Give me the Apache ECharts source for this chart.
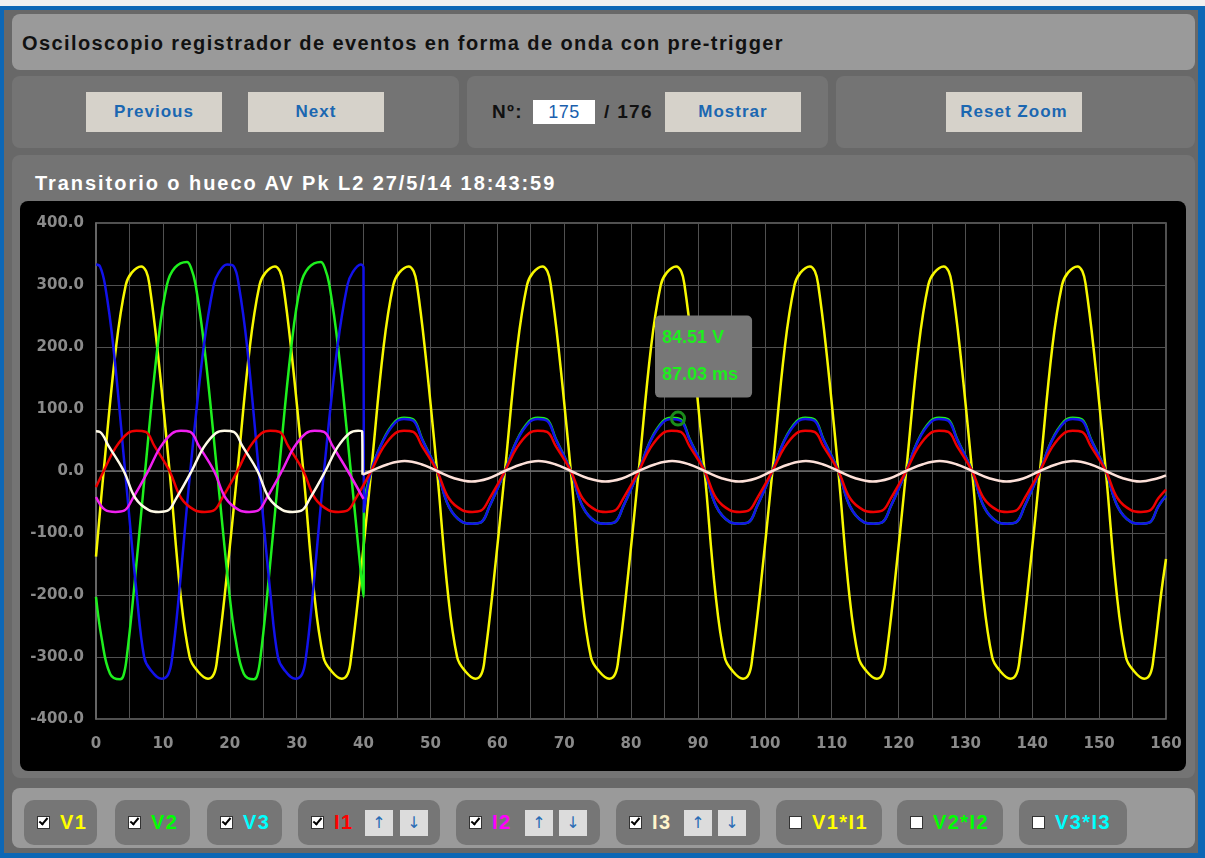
<!DOCTYPE html>
<html>
<head>
<meta charset="utf-8">
<title>Osciloscopio</title>
<script src="https://cdn.jsdelivr.net/npm/echarts@6/dist/echarts.min.js"></script>
<style>
  body { margin: 0; width: 1205px; height: 858px; overflow: hidden; position: relative;
         background: #f0f0f0; font-family: "Liberation Sans", Arial, sans-serif; }
  .abs { position: absolute; }
  .frame { left: 0; top: 6px; width: 1205px; height: 852px; box-sizing: border-box;
           border: 4px solid #0d67b5; border-right-width: 7px; border-bottom-width: 5px; background: #686868; }
  .bar { border-radius: 8px; background: #9a9a9a; }
  .panel { border-radius: 8px; background: #747474; }
  .ttl { left: 22px; top: 30px; font-size: 20px; font-weight: bold; color: #111; letter-spacing: 1.4px; line-height: 26px; }
  .btn { width: 136px; height: 40px; line-height: 40px; text-align: center; background: #d6d2ca;
         color: #1b67b1; font-size: 17px; font-weight: bold; letter-spacing: 1px; }
  .txt { font-size: 19px; font-weight: bold; color: #111; letter-spacing: 1.3px; line-height: 24px; }
  .inp { width: 62px; height: 24px; line-height: 24px; background: #fff; color: #1b5fae; font-size: 18px; text-align: center; letter-spacing: 0.5px; }
  .ctitle { left: 35px; top: 170px; font-size: 20px; font-weight: bold; color: #fff; letter-spacing: 1.95px; line-height: 26px; }
  #chart { left: 20px; top: 201px; width: 1166px; height: 570px; background: #000; border-radius: 8px; }
  .item { top: 800px; height: 45px; border-radius: 10px; background: #767676; }
  .cb { position: absolute; top: 16px; left: 13px; width: 11px; height: 11px; background: #fff; border: 1px solid #333; }
  .cb.on::after { content: ""; position: absolute; left: 3px; top: -1px; width: 3px; height: 7px;
                  border: solid #000; border-width: 0 2.5px 2.5px 0; transform: rotate(40deg); }
  .lab { position: absolute; left: 36px; top: 0; line-height: 45px; font-size: 20px; font-weight: bold; letter-spacing: 1.4px; }
  .arr { position: absolute; top: 10px; width: 28px; height: 26px; line-height: 26px; text-align: center;
         background: #dcdcdc; color: #2a6cb5; font-size: 16px; font-family: "DejaVu Sans", sans-serif; }
</style>
</head>
<body>
<div class="abs frame"></div>

<div class="abs bar" style="left:12px;top:14px;width:1183px;height:56px;"></div>
<div class="abs ttl">Osciloscopio registrador de eventos en forma de onda con pre-trigger</div>

<div class="abs panel" style="left:12px;top:76px;width:447px;height:72px;"></div>
<div class="abs panel" style="left:467px;top:76px;width:361px;height:72px;"></div>
<div class="abs panel" style="left:836px;top:76px;width:359px;height:72px;"></div>
<div class="abs btn" style="left:86px;top:92px;">Previous</div>
<div class="abs btn" style="left:248px;top:92px;">Next</div>
<div class="abs txt" style="left:492px;top:100px;">Nº:</div>
<div class="abs inp" style="left:533px;top:100px;">175</div>
<div class="abs txt" style="left:604px;top:100px;">/ 176</div>
<div class="abs btn" style="left:665px;top:92px;">Mostrar</div>
<div class="abs btn" style="left:946px;top:92px;">Reset Zoom</div>

<div class="abs panel" style="left:12px;top:155px;width:1183px;height:623px;"></div>
<div class="abs ctitle">Transitorio o hueco AV Pk L2 27/5/14 18:43:59</div>
<div id="chart" class="abs"></div>

<div class="abs bar" style="left:12px;top:788px;width:1183px;height:60px;"></div>
<div class="abs item" style="left:24px;width:73px;"><span class="cb on"></span><span class="lab" style="color:#ffff00">V1</span></div>
<div class="abs item" style="left:115px;width:75px;"><span class="cb on"></span><span class="lab" style="color:#00ff00">V2</span></div>
<div class="abs item" style="left:207px;width:75px;"><span class="cb on"></span><span class="lab" style="color:#00ffff">V3</span></div>
<div class="abs item" style="left:298px;width:142px;"><span class="cb on"></span><span class="lab" style="color:#ff0000">I1</span>
  <span class="arr" style="left:67px">↑</span><span class="arr" style="left:102px">↓</span></div>
<div class="abs item" style="left:456px;width:144px;"><span class="cb on"></span><span class="lab" style="color:#ff00ff">I2</span>
  <span class="arr" style="left:69px">↑</span><span class="arr" style="left:103px">↓</span></div>
<div class="abs item" style="left:616px;width:144px;"><span class="cb on"></span><span class="lab" style="color:#fff5cc">I3</span>
  <span class="arr" style="left:68px">↑</span><span class="arr" style="left:102px">↓</span></div>
<div class="abs item" style="left:776px;width:106px;"><span class="cb"></span><span class="lab" style="color:#ffff00">V1*I1</span></div>
<div class="abs item" style="left:897px;width:106px;"><span class="cb"></span><span class="lab" style="color:#00ff00">V2*I2</span></div>
<div class="abs item" style="left:1019px;width:108px;"><span class="cb"></span><span class="lab" style="color:#00ffff">V3*I3</span></div>

<script>
// [time ms, value] pairs
const v1 = [
  [0,-138],
  [1.15,0],[3.0,200],[4.45,300],[5.35,320],[6.75,330],[7.5,322],[8.0,300],[9.15,200],[11.0,0],[12.65,-200],[14.0,-300],[15.0,-320],[16.75,-335],[17.65,-327],[18.15,-300],[19.25,-200],
  [21.15,0],[23.0,200],[24.45,300],[25.35,320],[26.75,330],[27.5,322],[28.0,300],[29.15,200],[31.0,0],[32.65,-200],[34.0,-300],[35.0,-320],[36.75,-335],[37.65,-327],[38.15,-300],[39.25,-200],
  [41.15,0],[43.0,200],[44.45,300],[45.35,320],[46.75,330],[47.5,322],[48.0,300],[49.15,200],[51.0,0],[52.65,-200],[54.0,-300],[55.0,-320],[56.75,-335],[57.65,-327],[58.15,-300],[59.25,-200],
  [61.15,0],[63.0,200],[64.45,300],[65.35,320],[66.75,330],[67.5,322],[68.0,300],[69.15,200],[71.0,0],[72.65,-200],[74.0,-300],[75.0,-320],[76.75,-335],[77.65,-327],[78.15,-300],[79.25,-200],
  [81.15,0],[83.0,200],[84.45,300],[85.35,320],[86.75,330],[87.5,322],[88.0,300],[89.15,200],[91.0,0],[92.65,-200],[94.0,-300],[95.0,-320],[96.75,-335],[97.65,-327],[98.15,-300],[99.25,-200],
  [101.15,0],[103.0,200],[104.45,300],[105.35,320],[106.75,330],[107.5,322],[108.0,300],[109.15,200],[111.0,0],[112.65,-200],[114.0,-300],[115.0,-320],[116.75,-335],[117.65,-327],[118.15,-300],[119.25,-200],
  [121.15,0],[123.0,200],[124.45,300],[125.35,320],[126.75,330],[127.5,322],[128.0,300],[129.15,200],[131.0,0],[132.65,-200],[134.0,-300],[135.0,-320],[136.75,-335],[137.65,-327],[138.15,-300],[139.25,-200],
  [141.15,0],[143.0,200],[144.45,300],[145.35,320],[146.75,330],[147.5,322],[148.0,300],[149.15,200],[151.0,0],[152.65,-200],[154.0,-300],[155.0,-320],[156.75,-335],[157.65,-327],[158.15,-300],[159.25,-200],
  [160,-142]
];

const v2 = [
  [0,-203],[0.85,-270],[2.1,-327],[3.6,-336],[4.1,-330],[4.6,-300],[5.6,-200],[7.35,0],[9.2,200],[10.6,300],[11.8,328],[13.6,337],[14.2,328],[14.9,300],[16.2,200],[18.1,0],
  [20,-203],[20.85,-270],[22.1,-327],[23.6,-336],[24.1,-330],[24.6,-300],[25.6,-200],[27.35,0],[29.2,200],[30.6,300],[31.8,328],[33.6,337],[34.2,328],[34.9,300],[36.2,200],[38.1,0],[40,-203],
  [40.05,-66],
  [41.15,0],[42.95,50],[44.75,80],[46.05,86],[47.45,83],[48.75,52],[51.0,0],[52.75,-57],[54.75,-82],[56.25,-85],[57.55,-83],[58.85,-57],
  [61.15,0],[62.95,50],[64.75,80],[66.05,86],[67.45,83],[68.75,52],[71.0,0],[72.75,-57],[74.75,-82],[76.25,-85],[77.55,-83],[78.85,-57],
  [81.15,0],[82.95,50],[84.75,80],[86.05,86],[87.45,83],[88.75,52],[91.0,0],[92.75,-57],[94.75,-82],[96.25,-85],[97.55,-83],[98.85,-57],
  [101.15,0],[102.95,50],[104.75,80],[106.05,86],[107.45,83],[108.75,52],[111.0,0],[112.75,-57],[114.75,-82],[116.25,-85],[117.55,-83],[118.85,-57],
  [121.15,0],[122.95,50],[124.75,80],[126.05,86],[127.45,83],[128.75,52],[131.0,0],[132.75,-57],[134.75,-82],[136.25,-85],[137.55,-83],[138.85,-57],
  [141.15,0],[142.95,50],[144.75,80],[146.05,86],[147.45,83],[148.75,52],[151.0,0],[152.75,-57],[154.75,-82],[156.25,-85],[157.55,-83],[158.85,-57],
  [160,-40]
];

const v3 = [
  [0,333],[0.6,330],[1.35,300],[2.6,200],[4.35,0],[6.1,-200],[7.2,-300],[8.1,-320],[9.8,-335],[10.8,-328],[11.4,-300],[12.4,-200],[14.1,0],[16.1,200],[17.6,300],[18.35,320],[19.6,333],
  [20.6,330],[21.35,300],[22.6,200],[24.35,0],[26.1,-200],[27.2,-300],[28.1,-320],[29.8,-335],[30.8,-328],[31.4,-300],[32.4,-200],[34.1,0],[36.1,200],[37.6,300],[38.35,320],[39.6,333],[40,328],
  [40.05,-66],
  [41.15,0],[42.95,49],[44.75,78],[46.05,84],[47.45,81],[48.75,51],[51.0,0],[52.75,-57],[54.75,-82],[56.25,-85],[57.55,-83],[58.85,-57],
  [61.15,0],[62.95,49],[64.75,78],[66.05,84],[67.45,81],[68.75,51],[71.0,0],[72.75,-57],[74.75,-82],[76.25,-85],[77.55,-83],[78.85,-57],
  [81.15,0],[82.95,49],[84.75,78],[86.05,84],[87.45,81],[88.75,51],[91.0,0],[92.75,-57],[94.75,-82],[96.25,-85],[97.55,-83],[98.85,-57],
  [101.15,0],[102.95,49],[104.75,78],[106.05,84],[107.45,81],[108.75,51],[111.0,0],[112.75,-57],[114.75,-82],[116.25,-85],[117.55,-83],[118.85,-57],
  [121.15,0],[122.95,49],[124.75,78],[126.05,84],[127.45,81],[128.75,51],[131.0,0],[132.75,-57],[134.75,-82],[136.25,-85],[137.55,-83],[138.85,-57],
  [141.15,0],[142.95,49],[144.75,78],[146.05,84],[147.45,81],[148.75,51],[151.0,0],[152.75,-57],[154.75,-82],[156.25,-85],[157.55,-83],[158.85,-57],
  [160,-40]
];

const i1 = [
  [0,-26],
  [1.15,0],[2.95,38],[4.75,61],[6.05,65],[7.45,63],[8.75,40],[11.0,0],[12.75,-44],[14.75,-63],[16.25,-66],[17.55,-64],[18.85,-44],
  [21.15,0],[22.95,38],[24.75,61],[26.05,65],[27.45,63],[28.75,40],[31.0,0],[32.75,-44],[34.75,-63],[36.25,-66],[37.55,-64],[38.85,-44],
  [41.15,0],[42.95,38],[44.75,61],[46.05,65],[47.45,63],[48.75,40],[51.0,0],[52.75,-44],[54.75,-63],[56.25,-66],[57.55,-64],[58.85,-44],
  [61.15,0],[62.95,38],[64.75,61],[66.05,65],[67.45,63],[68.75,40],[71.0,0],[72.75,-44],[74.75,-63],[76.25,-66],[77.55,-64],[78.85,-44],
  [81.15,0],[82.95,38],[84.75,61],[86.05,65],[87.45,63],[88.75,40],[91.0,0],[92.75,-44],[94.75,-63],[96.25,-66],[97.55,-64],[98.85,-44],
  [101.15,0],[102.95,38],[104.75,61],[106.05,65],[107.45,63],[108.75,40],[111.0,0],[112.75,-44],[114.75,-63],[116.25,-66],[117.55,-64],[118.85,-44],
  [121.15,0],[122.95,38],[124.75,61],[126.05,65],[127.45,63],[128.75,40],[131.0,0],[132.75,-44],[134.75,-63],[136.25,-66],[137.55,-64],[138.85,-44],
  [141.15,0],[142.95,38],[144.75,61],[146.05,65],[147.45,63],[148.75,40],[151.0,0],[152.75,-44],[154.75,-63],[156.25,-66],[157.55,-64],[158.85,-44],
  [160,-30]
];

const i2 = [
  [0,-42],[1.4,-63],[2.9,-66],[4.2,-64],[5.5,-44],[7.8,0],[9.6,38],[11.4,61],[12.7,65],[14.1,63],[15.4,40],[17.65,0],[19.4,-44],
  [21.4,-63],[22.9,-66],[24.2,-64],[25.5,-44],[27.8,0],[29.6,38],[31.4,61],[32.7,65],[34.1,63],[35.4,40],[37.65,0],[40,-45]
];

// I3 before the trigger (cream) and after it (pale pink)
const i3Pre = [
  [0,64],[0.6,63],[1.9,40],[4.15,0],[5.9,-44],[7.9,-63],[9.4,-66],[10.7,-64],[12.0,-44],[14.3,0],[16.1,38],[17.9,61],[19.2,65],
  [20.6,63],[21.9,40],[24.15,0],[25.9,-44],[27.9,-63],[29.4,-66],[30.7,-64],[32.0,-44],[34.3,0],[36.1,38],[37.9,61],[39.2,65],[39.8,64],
  [39.85,-6]
];
const i3Post = [
  [39.85,-6],
  [41.15,0],[43.65,11],[46.15,16],[48.65,11],[51.0,0],[53.65,-12],[56.15,-17],[58.65,-12],
  [61.15,0],[63.65,11],[66.15,16],[68.65,11],[71.0,0],[73.65,-12],[76.15,-17],[78.65,-12],
  [81.15,0],[83.65,11],[86.15,16],[88.65,11],[91.0,0],[93.65,-12],[96.15,-17],[98.65,-12],
  [101.15,0],[103.65,11],[106.15,16],[108.65,11],[111.0,0],[113.65,-12],[116.15,-17],[118.65,-12],
  [121.15,0],[123.65,11],[126.15,16],[128.65,11],[131.0,0],[133.65,-12],[136.15,-17],[138.65,-12],
  [141.15,0],[143.65,11],[146.15,16],[148.65,11],[151.0,0],[153.65,-12],[156.15,-17],[158.65,-12],
  [160,-7]
];

// cursor readout shown in the capture: [ms, V]
const cursor = [87.03, 84.51];

const chart = echarts.init(document.getElementById('chart'));

function trace(name, data, color, extra) {
  return Object.assign({
    name: name,
    type: 'line',
    data: data,
    showSymbol: false,
    smooth: 0.4,
    animation: false,
    lineStyle: { color: color, width: 2.5 },
    itemStyle: { color: color }
  }, extra || {});
}

const axisText = { color: '#8a8a8a', fontWeight: 'bold', fontSize: 15, fontFamily: 'DejaVu Sans' };
const gridLine = { lineStyle: { color: '#505050', width: 1 } };

chart.setOption({
  backgroundColor: 'transparent',
  animation: false,
  grid: { left: 76, right: 20, top: 22, bottom: 52, show: true, borderColor: '#6c6c6c', borderWidth: 1.5 },
  xAxis: {
    type: 'value', min: 0, max: 160, interval: 10,
    axisLine: { lineStyle: { color: '#6c6c6c', width: 1.5 } },
    axisTick: { show: false },
    axisLabel: Object.assign({ margin: 18 }, axisText),
    splitLine: gridLine,
    minorTick: { show: false, splitNumber: 2 },
    minorSplitLine: { show: true, lineStyle: { color: '#505050', width: 1 } }
  },
  yAxis: {
    type: 'value', min: -400, max: 400, interval: 100,
    axisLine: { show: true, lineStyle: { color: '#6c6c6c', width: 1.5 } },
    axisTick: { show: false },
    axisLabel: Object.assign({ margin: 12, formatter: function (v) { return v.toFixed(1); } }, axisText),
    splitLine: gridLine
  },
  series: [
    trace('V1', v1, '#f8f800'),
    trace('V2', v2, '#1ef01e', {
      markPoint: {
        symbol: 'circle',
        symbolSize: 13,
        data: [{ coord: cursor }],
        itemStyle: { color: 'rgba(0,0,0,0)', borderColor: '#1b8c1b', borderWidth: 3 },
        label: {
          show: true,
          position: [-15, -95],
          formatter: cursor[1].toFixed(2) + ' V\n' + cursor[0].toFixed(2) + ' ms',
          color: '#1ef01e',
          fontWeight: 'bold',
          fontSize: 18,
          fontFamily: 'Liberation Sans',
          lineHeight: 37,
          backgroundColor: '#777777',
          borderRadius: 5,
          padding: [4, 14, 4, 7]
        }
      }
    }),
    trace('V3', v3, '#1212ea'),
    trace('I1', i1, '#ee0000'),
    trace('I2', i2, '#f020f0'),
    trace('I3', i3Pre, '#fffae6'),
    trace('I3 post', i3Post, '#fde0d8')
  ]
});
</script>
</body>
</html>
